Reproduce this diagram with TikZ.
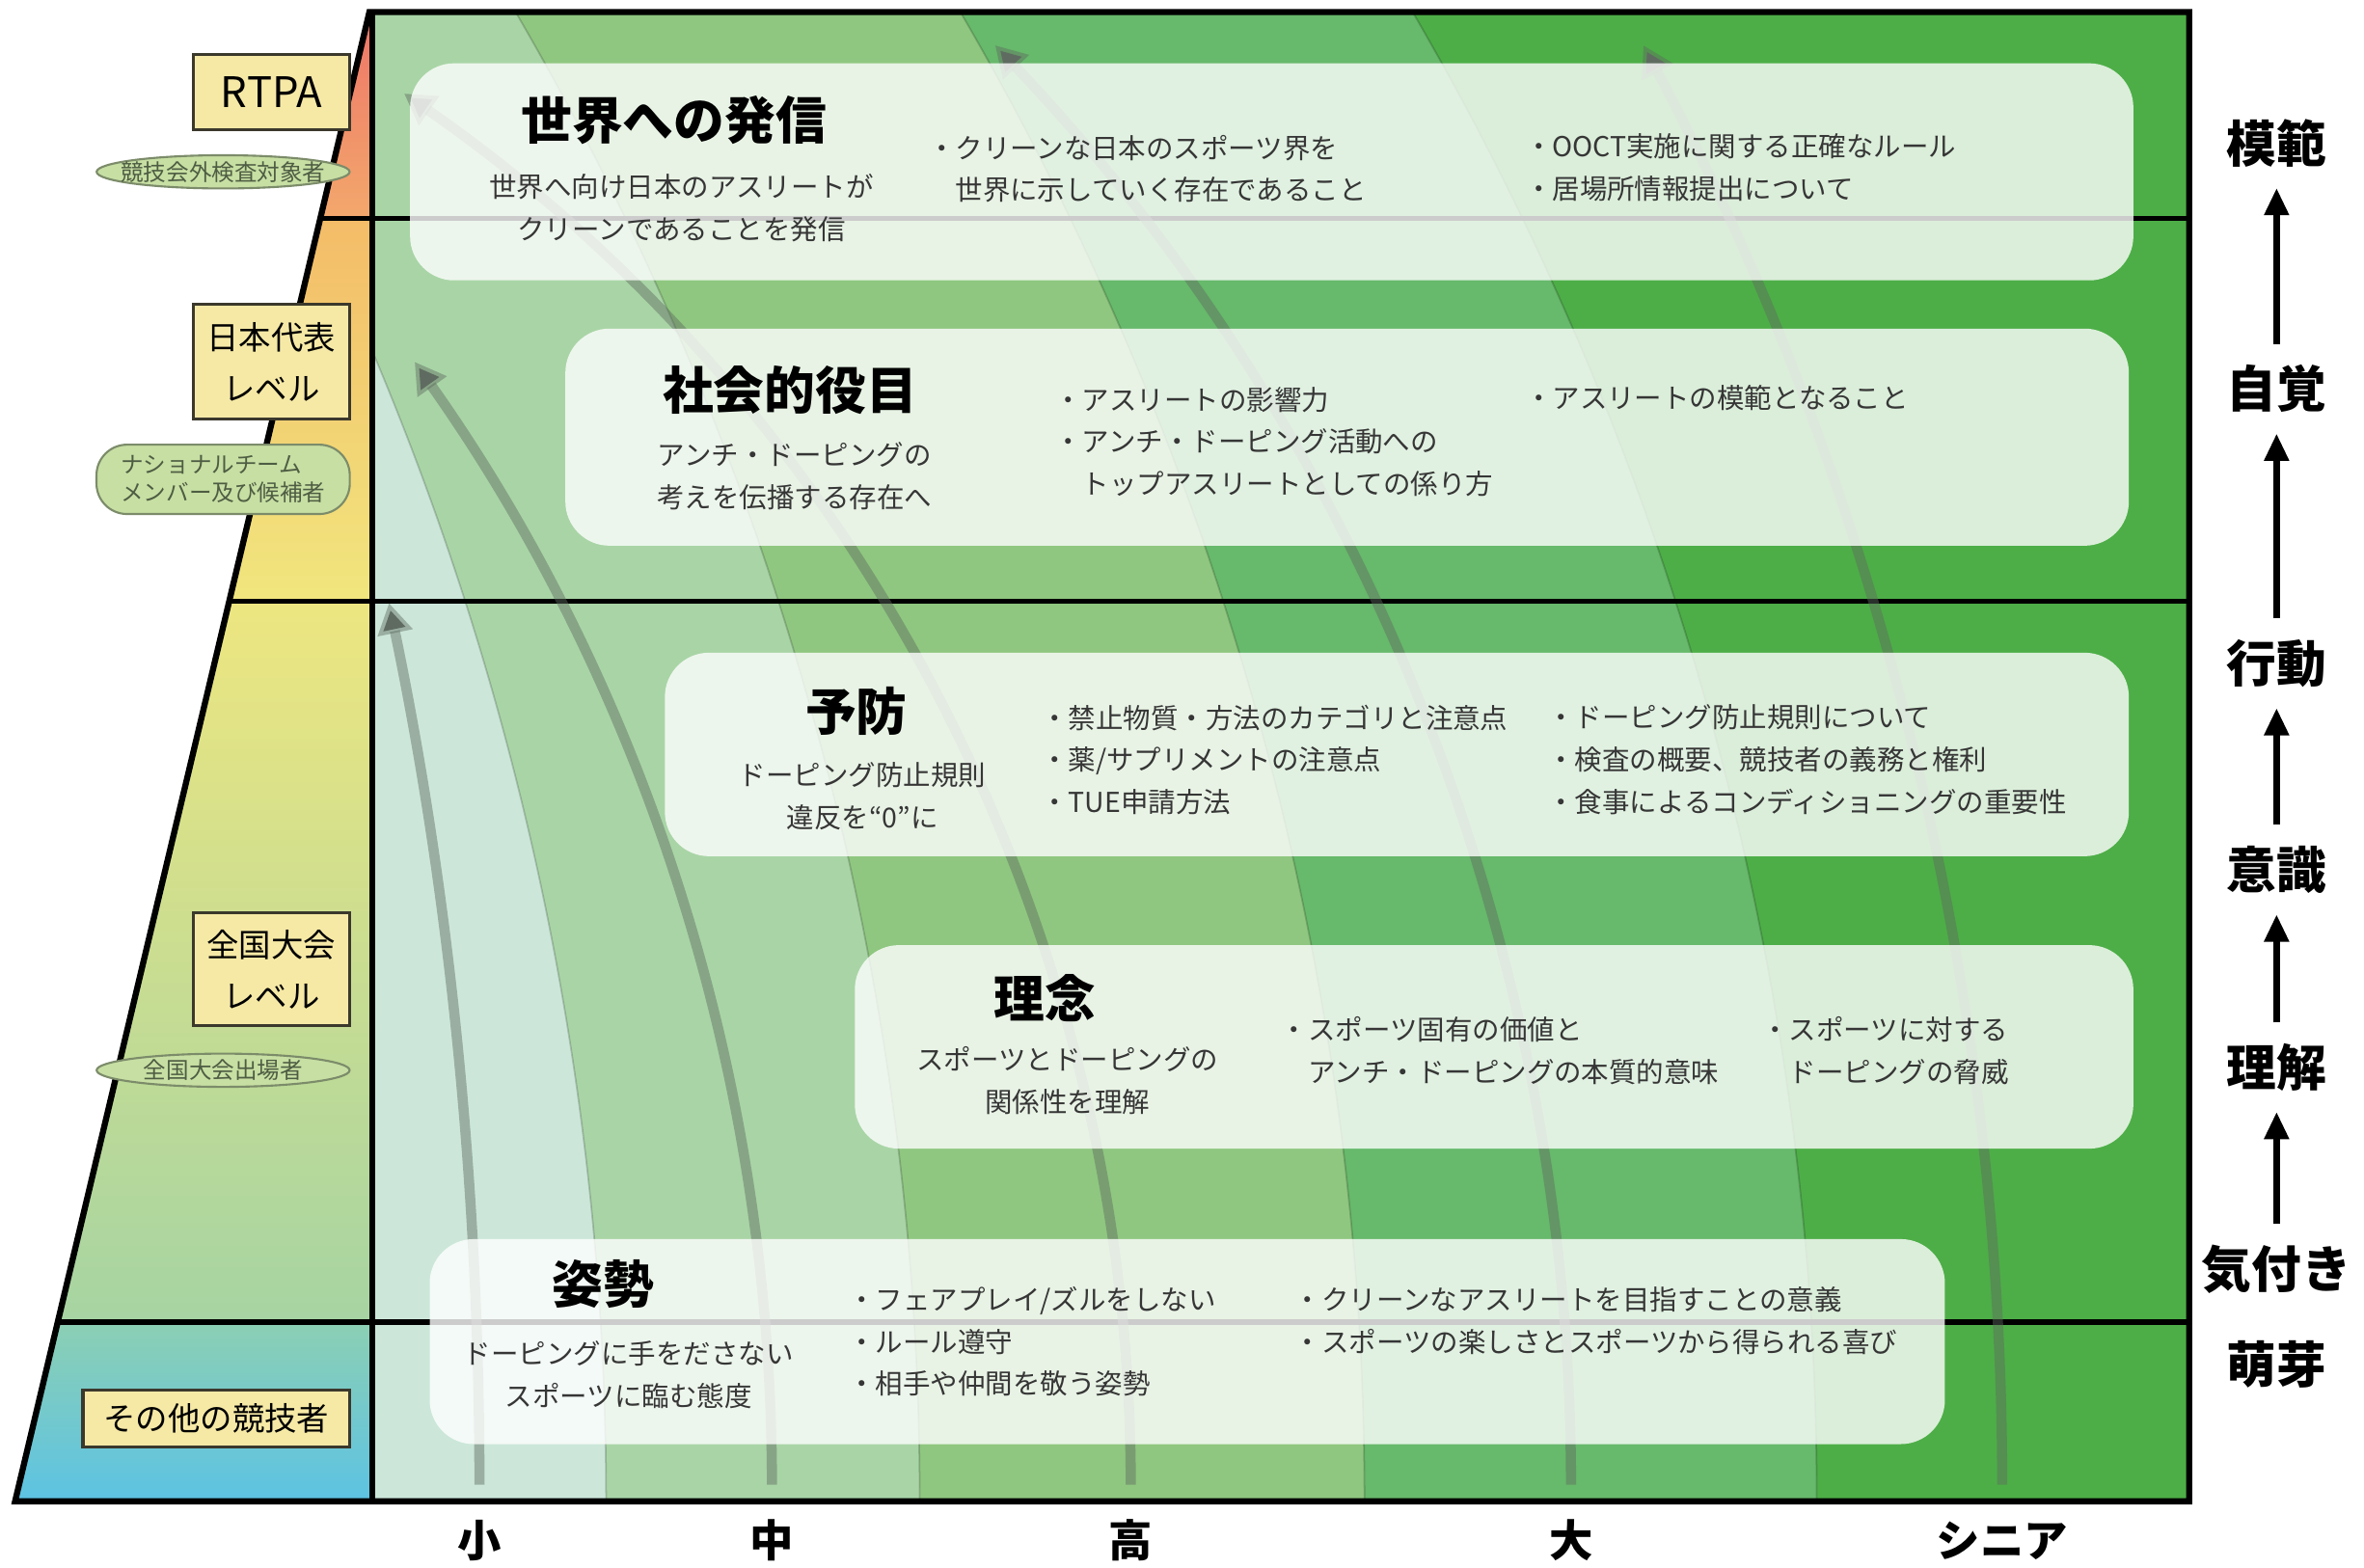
\documentclass[tikz,border=0pt]{standalone}
\usepackage{fontspec}
\setmainfont{Noto Sans CJK JP}
\usetikzlibrary{arrows.meta}

\definecolor{bandA}{HTML}{CCE7DA}
\definecolor{bandB}{HTML}{A9D5A6}
\definecolor{bandC}{HTML}{8FC780}
\definecolor{bandD}{HTML}{67B96B}
\definecolor{bandE}{HTML}{4DAE47}
\definecolor{pyrRa}{HTML}{EE7468}
\definecolor{pyrRb}{HTML}{F3A86C}
\definecolor{pyrNa}{HTML}{F4BC68}
\definecolor{pyrNb}{HTML}{F1E67E}
\definecolor{pyrZa}{HTML}{EDE680}
\definecolor{pyrZb}{HTML}{A6D4A2}
\definecolor{pyrSa}{HTML}{8CCFB4}
\definecolor{pyrSb}{HTML}{5CC3E3}
\definecolor{lvlfill}{HTML}{F6E9A6}
\definecolor{lvledge}{HTML}{3B382C}
\definecolor{tagfill}{HTML}{C7DFA3}
\definecolor{tagedge}{HTML}{7C8C6A}
\definecolor{tagtext}{HTML}{4E5D43}
\definecolor{bodytext}{HTML}{363636}
\definecolor{flowgray}{HTML}{5F6B60}

\tikzset{
  boxline/.style={line width=1.8pt,line join=miter},
  hline/.style={line width=1.5pt},
  band/.style={draw=black,draw opacity=0.18,line width=0.5pt},
  flow/.style={line width=3pt,draw=flowgray,draw opacity=0.45,-{Triangle[width=10pt,length=9pt]}},
  panel/.style={fill=white,fill opacity=0.8,rounded corners=13pt},
  ttl/.style={font=\fontsize{15}{18}\selectfont\bfseries,inner sep=0pt},
  dsc/.style={font=\fontsize{8.1}{12.45}\selectfont,text=bodytext,align=center,inner sep=0pt},
  lst/.style={font=\fontsize{8.1}{12.45}\selectfont,text=bodytext,align=left,anchor=west,inner sep=0pt},
  lvl/.style={draw=lvledge,line width=0.9pt,fill=lvlfill,font=\fontsize{9.5}{15}\selectfont,align=center,minimum width=46.2pt,inner sep=0pt},
  tag/.style={font=\fontsize{6.7}{8.4}\selectfont,text=tagtext,align=left,inner sep=0pt},
  tagring/.style={draw=tagedge,line width=0.6pt,fill=tagfill},
  stage/.style={font=\fontsize{14.7}{17}\selectfont\bfseries,inner sep=0pt},
  age/.style={font=\fontsize{12.9}{15}\selectfont\bfseries,inner sep=0pt},
  climb/.style={line width=1.8pt,-{Triangle[width=7pt,length=8pt]},shorten <=6pt,shorten >=6pt}
}

\begin{document}
\begin{tikzpicture}[x=0.015632cm,y=-0.015632cm]
\fill[white] (0,0) rectangle (1568,1040);

\fill[bandE] (247,8) rectangle (1452,996);
\path[band,fill=bandD] (1205,996) .. controls (1205,649) and (1112,308) .. (937,8) -- (247,8) -- (247,996) -- cycle;
\path[band,fill=bandC] (905,996) .. controls (905,649) and (812,308) .. (637,8) -- (247,8) -- (247,996) -- cycle;
\path[band,fill=bandB] (610,996) .. controls (610,649) and (517,308) .. (342,8) -- (247,8) -- (247,996) -- cycle;
\path[band,fill=bandA] (402,996) .. controls (402,734) and (349,474) .. (247,233) -- (247,996) -- cycle;

\shade[top color=pyrRa,bottom color=pyrRb] (245,8) -- (247,8) -- (247,145) -- (212.4,145) -- cycle;
\shade[top color=pyrNa,bottom color=pyrNb] (212.4,145) -- (247,145) -- (247,399) -- (152,399) -- cycle;
\shade[top color=pyrZa,bottom color=pyrZb] (152,399) -- (247,399) -- (247,877) -- (38.3,877) -- cycle;
\shade[top color=pyrSa,bottom color=pyrSb] (38.3,877) -- (247,877) -- (247,996) -- (10,996) -- cycle;

\draw[hline] (212.4,145) -- (1452,145);
\draw[hline] (152,399) -- (1452,399);
\draw[hline] (38.3,877) -- (1452,877);
\draw[boxline] (10,996) -- (245,8) -- (1452,8) -- (1452,996) -- cycle;
\draw[boxline] (247,8) -- (247,996);

\coordinate (f1s) at (318,985);  \coordinate (f1e) at (258,400);
\coordinate (f2s) at (512,985);  \coordinate (f2e) at (275,240);
\coordinate (f3s) at (750,985);  \coordinate (f3e) at (268,62);
\coordinate (f4s) at (1042,985); \coordinate (f4e) at (660,30);
\coordinate (f5s) at (1328,985); \coordinate (f5e) at (1090,30);
\draw[flow] (f1s) .. controls +(0,-197) and +(40,192) .. (f1e);
\draw[flow] (f2s) .. controls +(0,-267) and +(154,218) .. (f2e);
\draw[flow] (f3s) .. controls +(0,-368) and +(302,210) .. (f3e);
\draw[flow] (f4s) .. controls +(0,-356) and +(245,258) .. (f4e);
\draw[flow] (f5s) .. controls +(0,-333) and +(156,294) .. (f5e);

\fill[panel] (272,42) rectangle (1415,186);
\fill[panel] (375,218) rectangle (1412,362);
\fill[panel] (441,433) rectangle (1412,568);
\fill[panel] (567,627) rectangle (1415,762);
\fill[panel] (285,822) rectangle (1290,958);

\node[ttl] (sekai) at (447,80) {世界への発信};
\node[dsc] (sekaid) at (452,138) {世界へ向け日本のアスリートが\\クリーンであることを発信};
\node[lst] (sekaia) at (615,112) {・クリーンな日本のスポーツ界を\\　世界に示していく存在であること};
\node[lst] (sekaib) at (1011,111) {・OOCT実施に関する正確なルール\\・居場所情報提出について};

\node[ttl] (shakai) at (524,259) {社会的役目};
\node[dsc] (shakaid) at (527,316) {アンチ・ドーピングの\\考えを伝播する存在へ};
\node[lst] (shakaia) at (699,293) {・アスリートの影響力\\・アンチ・ドーピング活動への\\　トップアスリートとしての係り方};
\node[lst] (shakaib) at (1011,264) {・アスリートの模範となること};

\node[ttl] (yobo) at (568,472) {予防};
\node[dsc] (yobod) at (572,528) {ドーピング防止規則\\違反を“0”に};
\node[lst] (yoboa) at (690,504) {・禁止物質・方法のカテゴリと注意点\\・薬/サプリメントの注意点\\・TUE申請方法};
\node[lst] (yobob) at (1026,504) {・ドーピング防止規則について\\・検査の概要、競技者の義務と権利\\・食事によるコンディショニングの重要性};

\node[ttl] (rinen) at (693,662) {理念};
\node[dsc] (rinend) at (708,717) {スポーツとドーピングの\\関係性を理解};
\node[lst] (rinena) at (849,697) {・スポーツ固有の価値と\\　アンチ・ドーピングの本質的意味};
\node[lst] (rinenb) at (1168,697) {・スポーツに対する\\　ドーピングの脅威};

\node[ttl] (shisei) at (400,852) {姿勢};
\node[dsc] (shiseid) at (417,912) {ドーピングに手をださない\\スポーツに臨む態度};
\node[lst] (shiseia) at (562,890) {・フェアプレイ/ズルをしない\\・ルール遵守\\・相手や仲間を敬う姿勢};
\node[lst] (shiseib) at (858,876) {・クリーンなアスリートを目指すことの意義\\・スポーツの楽しさとスポーツから得られる喜び};

\node[lvl,minimum height=22.2pt,font=\fontsize{12.4}{14}\selectfont] (rtpa) at (180,61) {RTPA};
\filldraw[tagring] (148,114) ellipse [x radius=37.3pt,y radius=4.9pt];
\node[tag] (rtpatag) at (148,114) {競技会外検査対象者};
\node[lvl,minimum height=33.8pt] (nihon) at (180,240) {日本代表\\レベル};
\filldraw[tagring,rounded corners=9pt] (64,295) rectangle (232,341);
\node[tag] (nihontag) at (148,318) {ナショナルチーム\\メンバー及び候補者};
\node[lvl,minimum height=33.3pt] (zenkoku) at (180,643) {全国大会\\レベル};
\filldraw[tagring] (148,710) ellipse [x radius=37.3pt,y radius=4.9pt];
\node[tag] (zenkokutag) at (148,710) {全国大会出場者};
\node[lvl,minimum width=78.7pt,minimum height=16.9pt] (sonota) at (143.5,941) {その他の競技者};

\node[stage] (mohan) at (1510,95) {模範};
\node[stage] (jikaku) at (1510,258) {自覚};
\node[stage] (kodo) at (1510,440) {行動};
\node[stage] (ishiki) at (1510,577) {意識};
\node[stage] (rikai) at (1510,708) {理解};
\node[stage] (kizuki) at (1510,842) {気付き};
\node[stage] (houga) at (1510,905) {萌芽};
\draw[climb] (jikaku) -- (mohan);
\draw[climb] (kodo) -- (jikaku);
\draw[climb] (ishiki) -- (kodo);
\draw[climb] (rikai) -- (ishiki);
\draw[climb] (kizuki) -- (rikai);

\node[age] (sho) at (318,1022) {小};
\node[age] (chu) at (512,1022) {中};
\node[age] (ko) at (750,1022) {高};
\node[age] (dai) at (1042,1022) {大};
\node[age] (senior) at (1328,1022) {シニア};
\end{tikzpicture}
\end{document}
